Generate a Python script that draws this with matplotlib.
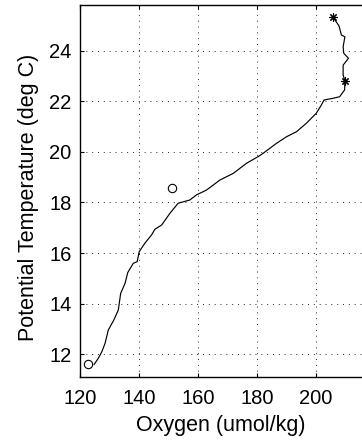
import matplotlib
matplotlib.use("Agg")
import matplotlib.pyplot as plt

# Oxygen vs potential temperature profile
oxygen = [205.9, 207.9, 208.7, 209.9, 209.3, 209.5, 211.1, 209.3, 209.3, 209.9,
          209.8, 208.1, 205.9, 202.8, 201.9, 200.2, 196.8, 193.5, 190.1, 186.7,
          182.1, 180.4, 176.5, 172.0, 167.5, 162.9, 159.5, 157.3, 153.3, 150.5,
          147.7, 145.4, 144.3, 142.0, 140.1, 139.4, 138.1, 136.2, 135.3, 133.8,
          133.0, 131.5, 129.6, 128.5, 127.4, 126.2, 124.8]
theta = [25.32, 24.98, 24.62, 24.55, 24.16, 23.90, 23.70, 23.43, 23.04, 22.81,
         22.45, 22.18, 22.12, 22.05, 21.85, 21.53, 21.13, 20.80, 20.60, 20.34,
         19.94, 19.81, 19.55, 19.15, 18.89, 18.49, 18.30, 18.10, 17.97, 17.57,
         17.11, 16.94, 16.72, 16.39, 16.06, 15.66, 15.60, 15.23, 14.81, 14.41,
         13.75, 13.36, 12.96, 12.43, 12.10, 11.84, 11.60]

# Marked samples
star_oxygen = [205.9, 209.9]
star_theta = [25.32, 22.81]
circle_oxygen = [151.2, 122.6]
circle_theta = [18.56, 11.60]

x_ticks = [120, 140, 160, 180, 200]
y_ticks = [12, 14, 16, 18, 20, 22, 24]

plt.rcParams['font.family'] = ['Liberation Sans', 'DejaVu Sans']

fig = plt.figure(figsize=(3.62, 4.42), dpi=100)
ax = fig.add_axes([80 / 362, 65 / 442, 282 / 362, 372 / 442])

ax.plot(oxygen, theta, color='black', linewidth=0.85)
ax.plot(star_oxygen, star_theta, linestyle='none', marker=(8, 2, 0),
        color='black', markersize=6, markeredgewidth=0.8)
ax.plot(circle_oxygen, circle_theta, linestyle='none', marker='o',
        markerfacecolor='none', markeredgecolor='black', markersize=6,
        markeredgewidth=0.8)

ax.set_xlim(120, 215.7)
ax.set_ylim(11.103, 25.806)
ax.set_xticks(x_ticks)
ax.set_yticks(y_ticks)
ax.grid(True, color='0.15', linestyle=(0, (1, 5)), linewidth=0.7)

ax.tick_params(direction='in', length=3, width=0.8, labelsize=14.5,
               top=True, right=False)
ax.tick_params(axis='x', pad=9)
ax.tick_params(axis='y', pad=6)
ax.spines['right'].set_visible(False)
for side in ('left', 'bottom', 'top'):
    ax.spines[side].set_linewidth(1.0)

ax.set_xlabel('Oxygen (umol/kg)', fontsize=15.5, labelpad=5)
ax.set_ylabel('Potential Temperature (deg C)', fontsize=15.5)
ax.yaxis.set_label_coords(-41 / 282, 0.5 - 6 / 372)

fig.savefig('out.png', dpi=100)
